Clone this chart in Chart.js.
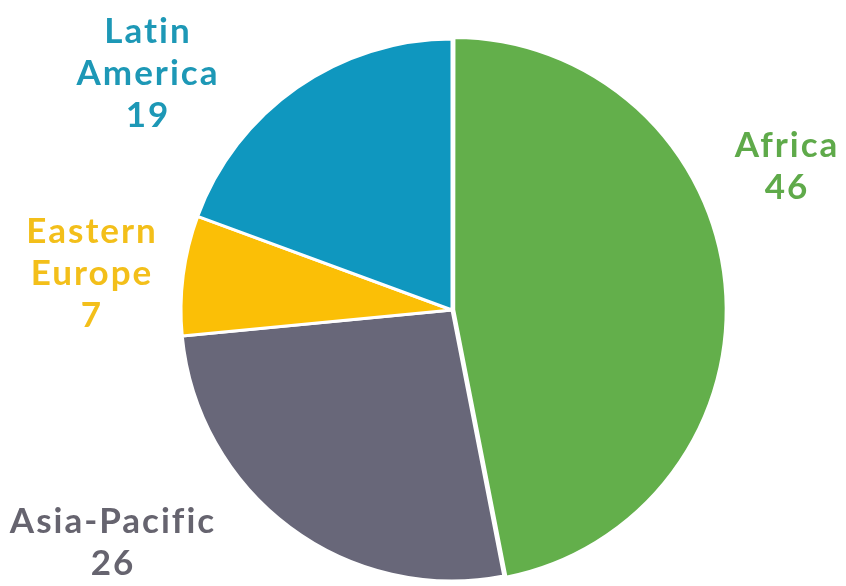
<!DOCTYPE html>
<html>
<head>
<meta charset="utf-8">
<script src="https://cdn.jsdelivr.net/npm/chart.js@4"></script>
<style>
  html, body { margin: 0; padding: 0; background: #ffffff; }
  #wrap { width: 846px; height: 586px; }
</style>
</head>
<body>
<div id="wrap"><canvas id="pie" width="846" height="586"></canvas></div>
<script>
  /* ── Data ── */
  var regions = ['Africa', 'Asia-Pacific', 'Eastern Europe', 'Latin America'];
  var counts = [46, 26, 7, 19];
  var sliceColors = ['#63af4b', '#686779', '#fbbf06', '#0f97bf'];
  var labelColors = ['#5faa4a', '#66646f', '#f3bf1a', '#1d98b6'];

  /* ── Label layout: centre x, first baseline y, text lines ── */
  var labelLayout = [
    { x: 786, y: 157, lines: ['Africa'] },
    { x: 112, y: 533, lines: ['Asia-Pacific'] },
    { x: 91,  y: 243, lines: ['Eastern', 'Europe'] },
    { x: 147, y: 43,  lines: ['Latin', 'America'] }
  ];
  var lineGap = 42;

  var outsideLabels = {
    id: 'outsideLabels',
    afterDraw: function (chart) {
      var ctx = chart.ctx;
      ctx.save();
      ctx.font = 'bold 35px Lato, "Open Sans", sans-serif';
      ctx.letterSpacing = '2px';
      ctx.textAlign = 'center';
      ctx.textBaseline = 'alphabetic';
      labelLayout.forEach(function (l, i) {
        var rows = l.lines.concat([String(counts[i])]);
        ctx.fillStyle = labelColors[i];
        rows.forEach(function (t, j) {
          // letterSpacing adds a trailing gap, nudge back by half of it
          ctx.fillText(t, l.x + 1, l.y + j * lineGap);
        });
      });
      ctx.restore();
    }
  };

  new Chart(document.getElementById('pie'), {
    type: 'pie',
    data: {
      labels: regions,
      datasets: [{
        data: counts,
        backgroundColor: sliceColors,
        borderColor: '#ffffff',
        borderWidth: 3,
        offset: [7, 0, 0, 0]
      }]
    },
    options: {
      responsive: false,
      animation: false,
      radius: 271,
      layout: { padding: { left: 58, top: 34, right: 0, bottom: 0 } },
      plugins: {
        legend: { display: false },
        tooltip: { enabled: false }
      }
    },
    plugins: [outsideLabels]
  });
</script>
</body>
</html>
